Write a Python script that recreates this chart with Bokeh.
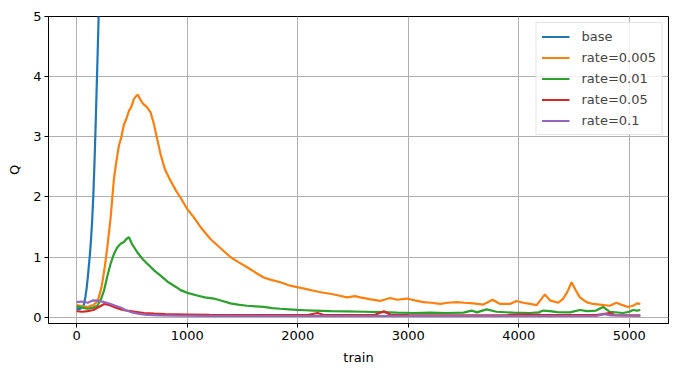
from bokeh.plotting import figure
from bokeh.models import Range1d, FixedTicker, Legend, LegendItem
from bokeh.embed import file_html
from bokeh.resources import INLINE

# ---- data ----
series_names = ["base", "rate=0.005", "rate=0.01", "rate=0.05", "rate=0.1"]
series_colors = ["#1f77b4", "#ff7f0e", "#2ca02c", "#d62728", "#9467bd"]

base = [(0, 0.15), (20, 0.13), (40, 0.15), (60, 0.18), (70, 0.25), (80, 0.35), (90, 0.48),
        (100, 0.65), (110, 0.85), (120, 1.05), (130, 1.3), (140, 1.6), (150, 2.0), (160, 2.5),
        (170, 3.1), (180, 3.75), (190, 4.4), (200, 5.1), (210, 5.9)]

rate_005 = [(0, 0.2), (50, 0.18), (100, 0.17), (150, 0.2), (180, 0.25), (200, 0.33), (225, 0.5),
            (250, 0.78), (277, 1.16), (307, 1.65), (337, 2.3), (360, 2.6), (382, 2.85), (405, 3.0),
            (427, 3.2), (450, 3.3), (473, 3.43), (495, 3.5), (518, 3.63), (540, 3.68), (554, 3.70),
            (575, 3.62), (600, 3.55), (638, 3.49), (670, 3.4), (699, 3.21), (730, 2.95), (759, 2.71),
            (800, 2.45), (849, 2.27), (900, 2.1), (939, 1.99), (1000, 1.8), (1060, 1.66), (1120, 1.5),
            (1210, 1.3), (1300, 1.15), (1391, 1.0), (1460, 0.92), (1542, 0.83), (1620, 0.74),
            (1692, 0.66), (1760, 0.62), (1843, 0.58), (1920, 0.53), (1994, 0.5), (2070, 0.47),
            (2144, 0.44), (2220, 0.41), (2295, 0.39), (2370, 0.36), (2445, 0.33), (2520, 0.35),
            (2565, 0.33), (2650, 0.3), (2746, 0.27), (2836, 0.32), (2900, 0.29), (2987, 0.31),
            (3060, 0.28), (3137, 0.25), (3210, 0.24), (3288, 0.22), (3360, 0.24), (3438, 0.25),
            (3510, 0.24), (3589, 0.23), (3679, 0.21), (3764, 0.29), (3830, 0.22), (3920, 0.22),
            (3980, 0.27), (4040, 0.24), (4101, 0.22), (4162, 0.2), (4237, 0.38), (4282, 0.28),
            (4357, 0.24), (4403, 0.31), (4440, 0.42), (4478, 0.58), (4515, 0.45), (4553, 0.33),
            (4613, 0.25), (4670, 0.22), (4733, 0.21), (4824, 0.19), (4884, 0.24), (4940, 0.2),
            (4989, 0.17), (5034, 0.19), (5070, 0.23), (5100, 0.22)]

rate_01 = [(0, 0.18), (50, 0.16), (97, 0.14), (150, 0.16), (187, 0.19), (220, 0.3), (247, 0.44),
           (277, 0.68), (307, 0.89), (337, 1.05), (367, 1.16), (397, 1.22), (427, 1.25), (450, 1.3),
           (473, 1.33), (500, 1.22), (548, 1.08), (590, 0.98), (638, 0.89), (700, 0.78), (759, 0.69),
           (830, 0.58), (909, 0.49), (939, 0.45), (1010, 0.40), (1090, 0.36), (1160, 0.33),
           (1241, 0.31), (1320, 0.27), (1391, 0.23), (1460, 0.21), (1542, 0.19), (1620, 0.18),
           (1692, 0.17), (1770, 0.15), (1843, 0.14), (1920, 0.13), (1994, 0.12), (2070, 0.115),
           (2144, 0.11), (2300, 0.10), (2445, 0.095), (2600, 0.09), (2750, 0.085), (2900, 0.075),
           (3050, 0.07), (3200, 0.075), (3350, 0.07), (3500, 0.075), (3574, 0.11), (3620, 0.08),
           (3709, 0.13), (3800, 0.09), (3950, 0.075), (4100, 0.07), (4180, 0.08), (4222, 0.11),
           (4282, 0.10), (4350, 0.085), (4463, 0.08), (4553, 0.12), (4620, 0.10), (4700, 0.11),
           (4763, 0.17), (4824, 0.09), (4944, 0.07), (5000, 0.09), (5034, 0.12), (5070, 0.11),
           (5100, 0.12)]

rate_05 = [(0, 0.1), (50, 0.09), (100, 0.1), (150, 0.12), (200, 0.17), (250, 0.22), (300, 0.2),
           (350, 0.16), (400, 0.13), (458, 0.11), (530, 0.09), (608, 0.07), (700, 0.06), (800, 0.05),
           (1000, 0.045), (1200, 0.04), (1500, 0.035), (1800, 0.035), (2100, 0.04), (2180, 0.07),
           (2230, 0.04), (2500, 0.035), (2700, 0.04), (2780, 0.1), (2840, 0.04), (3000, 0.035),
           (3500, 0.03), (3900, 0.035), (4000, 0.045), (4200, 0.04), (4500, 0.035), (4700, 0.035),
           (4820, 0.07), (4870, 0.035), (5100, 0.03)]

rate_1 = [(0, 0.25), (50, 0.26), (100, 0.24), (150, 0.28), (200, 0.27), (250, 0.25), (307, 0.22),
          (350, 0.19), (397, 0.16), (450, 0.11), (518, 0.07), (580, 0.05), (638, 0.04), (750, 0.03),
          (900, 0.025), (1200, 0.02), (2000, 0.02), (3000, 0.02), (4000, 0.02), (4700, 0.02),
          (4780, 0.05), (4830, 0.03), (5100, 0.02)]

series_data = [base, rate_005, rate_01, rate_05, rate_1]

x_ticks = [0, 1000, 2000, 3000, 4000, 5000]
y_ticks = [0, 1, 2, 3, 4, 5]

FONT = "DejaVu Sans"

p = figure(width=678, height=376, output_backend="svg", toolbar_location=None,
           x_range=Range1d(-255, 5355), y_range=Range1d(-0.105, 5.0),
           min_border_left=48, min_border_right=10, min_border_top=16, min_border_bottom=53)

p.outline_line_color = "black"
p.outline_line_width = 1
p.background_fill_color = "white"
p.border_fill_color = "white"

items = []
for name, color, data in zip(series_names, series_colors, series_data):
    xs = [d[0] for d in data]
    ys = [d[1] for d in data]
    r = p.line(xs, ys, line_color=color, line_width=2.2)
    items.append(LegendItem(label=name, renderers=[r]))

for ax, ticks, label in [(p.xaxis[0], x_ticks, "train"), (p.yaxis[0], y_ticks, "Q")]:
    ax.ticker = FixedTicker(ticks=ticks)
    ax.axis_label = label
    ax.axis_label_text_font = FONT
    ax.axis_label_text_font_size = "13px"
    ax.axis_label_text_font_style = "normal"
    ax.axis_label_text_color = "black"
    ax.major_label_text_font = FONT
    ax.major_label_text_font_size = "13px"
    ax.major_label_text_color = "black"
    ax.major_tick_out = 4
    ax.major_tick_in = 0
    ax.minor_tick_line_color = None
    ax.axis_line_color = "black"
    ax.major_tick_line_color = "black"
    ax.major_label_standoff = 3

p.xaxis[0].axis_label_standoff = 7
p.yaxis[0].axis_label_standoff = 8

for g in (p.xgrid[0], p.ygrid[0]):
    g.grid_line_color = "#b0b0b0"
    g.grid_line_width = 1

legend = Legend(items=items, location="top_right", margin=6, padding=5,
                spacing=4, glyph_width=28, glyph_height=17, label_height=17,
                label_standoff=12, label_text_font=FONT, label_text_font_size="13px",
                border_line_color="#cccccc", border_line_width=1,
                background_fill_color="white", background_fill_alpha=0.8)
p.add_layout(legend)

open("out.html", "w").write(file_html(p, INLINE))
